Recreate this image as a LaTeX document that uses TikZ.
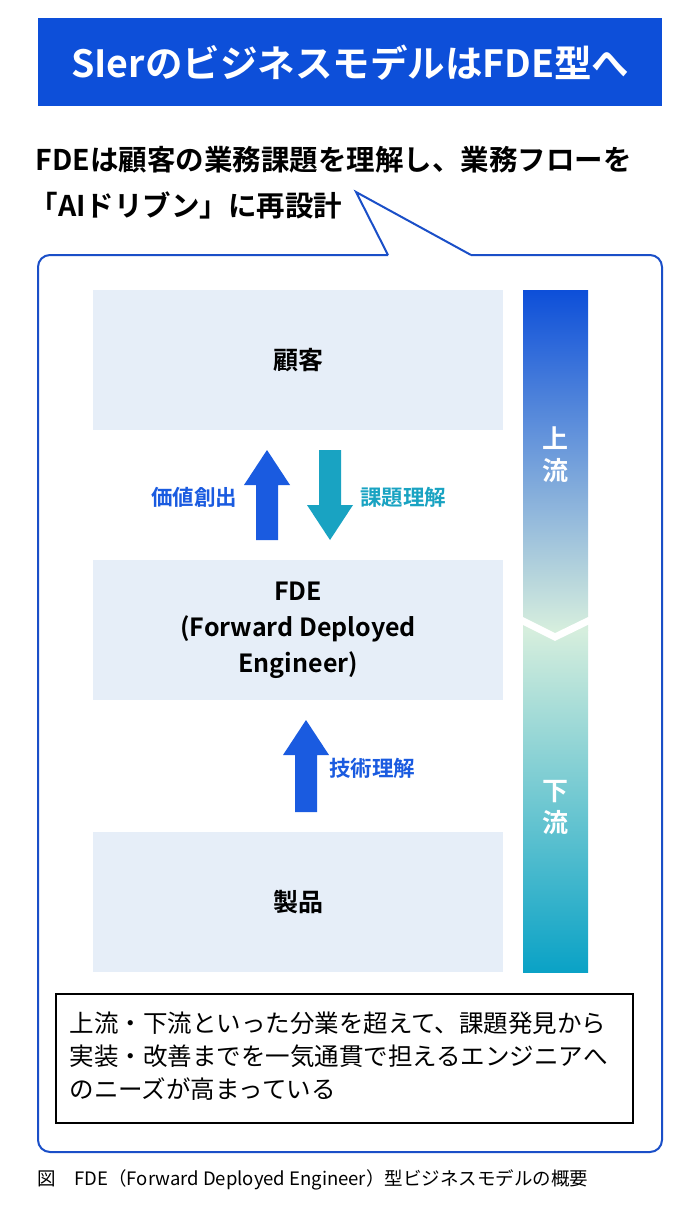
\documentclass[tikz,border=0pt]{standalone}
\usepackage{fontspec}
\setmainfont{Noto Sans CJK JP}[BoldFont={* Bold}]
\definecolor{tblue}{HTML}{0D4FD9}
\definecolor{ablue}{HTML}{1A5BE0}
\definecolor{ateal}{HTML}{19A3C2}
\definecolor{boxc}{HTML}{E6EEF8}
\definecolor{pale}{HTML}{D6EEDD}
\definecolor{bteal}{HTML}{0AA2C6}
\definecolor{bblue}{HTML}{1A4FC8}
\begin{document}
\begin{tikzpicture}[x=1pt,y=-1pt,
  box/.style={fill=boxc,draw=none,minimum width=410pt,minimum height=140pt,anchor=north west,font=\bfseries\fontsize{25}{36}\selectfont,align=center},
  lab/.style={font=\bfseries\fontsize{21.5}{24}\selectfont}]
\useasboundingbox (0,0) rectangle (700,1207);
\fill[white] (0,0) rectangle (700,1207);
% title
\node[fill=tblue,minimum width=624pt,minimum height=88pt,anchor=north west,text=white,font=\bfseries\fontsize{37.5}{40}\selectfont] (title) at (38,18) {SIerのビジネスモデルはFDE型へ};
\node[anchor=west,font=\bfseries\fontsize{28.5}{32}\selectfont] (sub1) at (32,160) {FDEは顧客の業務課題を理解し、業務フローを};
\node[anchor=west,font=\bfseries\fontsize{28.5}{32}\selectfont] (sub2) at (26,205) {「AIドリブン」に再設計};
% bubble
\draw[bblue,line width=2pt,rounded corners=12pt] (388,255) -- (38,255) -- (38,1152) -- (662,1152) -- (662,255) -- (471,255);
\draw[bblue,line width=2pt,line join=miter] (388,255) -- (356,192) -- (471,255);
% boxes
\node[box] (cust) at (93,290) {顧客};
\node[box] (fde) at (93,560) {FDE\\(Forward Deployed\\Engineer)};
\node[box] (prod) at (93,832) {製品};
% arrows
\fill[ablue] (267,450) -- (290,485) -- (278,485) -- (278,540) -- (256,540) -- (256,485) -- (244,485) -- cycle;
\fill[ateal] (330,540) -- (353,505) -- (341,505) -- (341,450) -- (319,450) -- (319,505) -- (307,505) -- cycle;
\fill[ablue] (306,720) -- (329,755) -- (317,755) -- (317,812) -- (295,812) -- (295,755) -- (283,755) -- cycle;
\node[lab,text=ablue] (l1) at (194,497) {価値創出};
\node[lab,text=ateal] (l2) at (403,497) {課題理解};
\node[lab,text=ablue] (l3) at (372,768) {技術理解};
% bar
\shade[top color=tblue,bottom color=pale] (523,290) rectangle (588,630);
\shade[top color=pale,bottom color=bteal] (523,630) rectangle (588,972);
\draw[white,line width=7pt,line join=miter] (521,620) -- (555,637) -- (590,620);
\node[text=white,font=\bfseries\fontsize{26}{32}\selectfont,align=center] (up) at (555,455) {上\\流};
\node[text=white,font=\bfseries\fontsize{26}{32}\selectfont,align=center] (down) at (555,808) {下\\流};
% note
\node[draw=black,line width=2pt,minimum width=577pt,minimum height=129pt,anchor=north west] (note) at (55,993) {};
\node[anchor=north west,font=\fontsize{24.5}{33}\selectfont,align=left] (notet) at (66,1008) {上流・下流といった分業を超えて、課題発見から\\実装・改善までを一気通貫で担えるエンジニアへ\\のニーズが高まっている};
\node[anchor=west,font=\fontsize{18.5}{20}\selectfont] (cap) at (34,1180) {図\quad FDE（Forward Deployed Engineer）型ビジネスモデルの概要};
\end{tikzpicture}
\end{document}
